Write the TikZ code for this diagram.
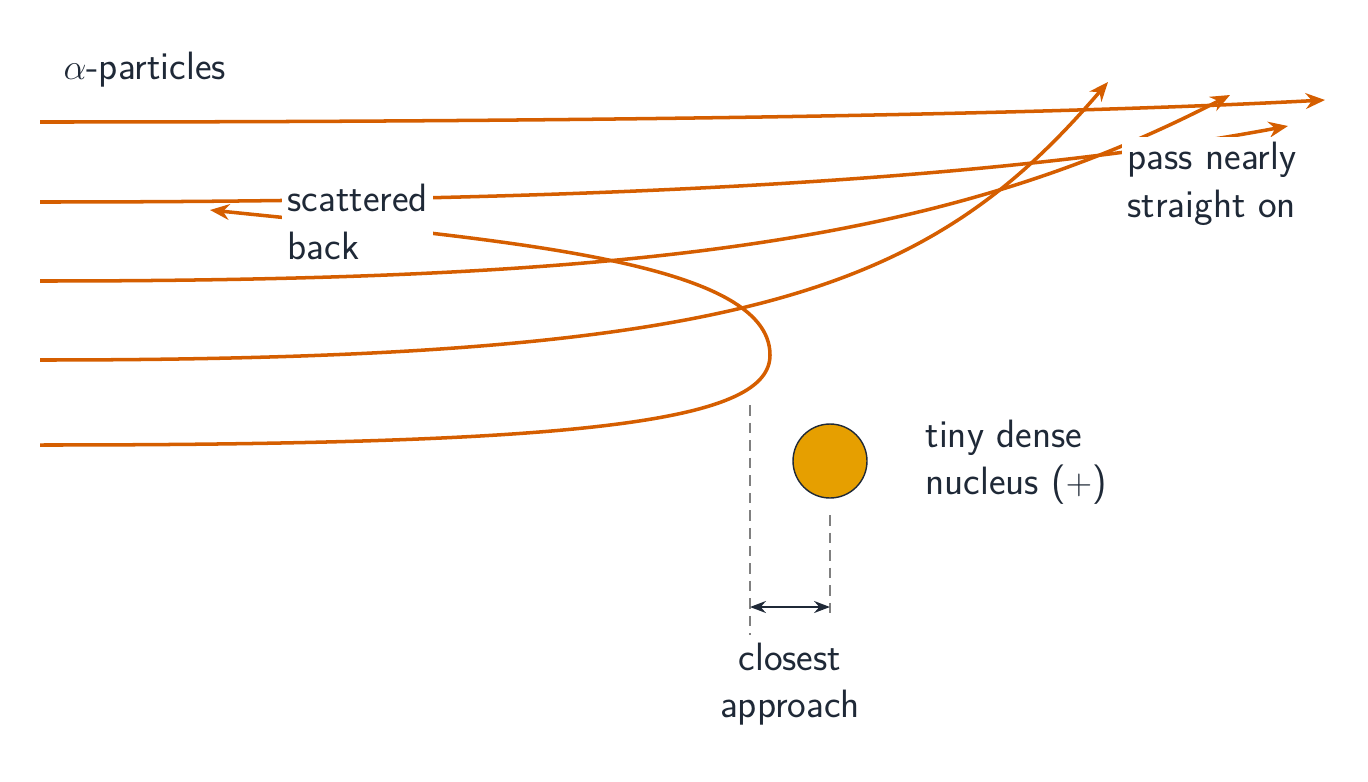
\documentclass[tikz,border=0pt]{standalone}
\usetikzlibrary{arrows.meta}
\definecolor{ray}{HTML}{D55E00}
\definecolor{nuc}{HTML}{E69F00}
\definecolor{ink}{HTML}{1F2937}
\tikzset{
  path/.style={draw=ray, line width=2pt, -{Stealth[length=11pt,width=9pt]}},
  lbl/.style={font=\fontsize{22.5}{27}\selectfont\sffamily, text=ink, align=left, inner sep=3pt},
  guide/.style={draw=gray, dash pattern=on 6pt off 4pt, line width=1pt}
}
\begin{document}
\begin{tikzpicture}[x=0.02cm,y=-0.02cm]
\useasboundingbox (0,0) rectangle (1368,781);
% incoming paths
\coordinate (s1) at (40,122);
\coordinate (s2) at (40,202);
\coordinate (s3) at (40,281);
\coordinate (s4) at (40,360);
\coordinate (s5) at (40,445);
\coordinate (e1) at (1325,100);
\coordinate (e2) at (1288,126);
\coordinate (e3) at (1230,95);
\coordinate (e4) at (1108,82);
\coordinate (e5) at (210,210);
\draw[path] (s1) .. controls (700,122) and (1100,112) .. (e1);
\draw[path] (s2) .. controls (600,202) and (1000,180) .. (e2);
\draw[path] (s3) .. controls (650,281) and (950,240) .. (e3);
\draw[path] (s4) .. controls (750,360) and (930,290) .. (e4);
\draw[path] (s5) .. controls (600,445) and (770,420) .. (770,355)
  .. controls (770,260) and (500,240) .. (e5);
% labels over the paths
\node[lbl, fill=white, anchor=west] (back) at (282,222) {scattered\\back};
\node[lbl, fill=white, anchor=west] (pass) at (1122,184) {pass nearly\\straight on};
\node[lbl, anchor=west] (alpha) at (58,70) {$\alpha$-particles};
% nucleus
\node[circle, draw=ink, fill=nuc, line width=0.8pt, minimum size=1.48cm, inner sep=0pt] (nucleus) at (830,461) {};
\node[lbl, anchor=west] (nlabel) at (920,462) {tiny dense\\nucleus ($+$)};
% closest approach
\coordinate (t1) at (750,405);
\coordinate (b1) at (750,635);
\coordinate (t2) at (830,515);
\coordinate (b2) at (830,620);
\draw[guide] (t1) -- (b1);
\draw[guide] (t2) -- (b2);
\coordinate (a1) at (750,607);
\coordinate (a2) at (830,607);
\draw[ink, line width=1.4pt, {Stealth[length=9pt]}-{Stealth[length=9pt]}] (a1) -- (a2);
\node[lbl, align=center] (approach) at (790,684) {closest\\approach};
\end{tikzpicture}
\end{document}
